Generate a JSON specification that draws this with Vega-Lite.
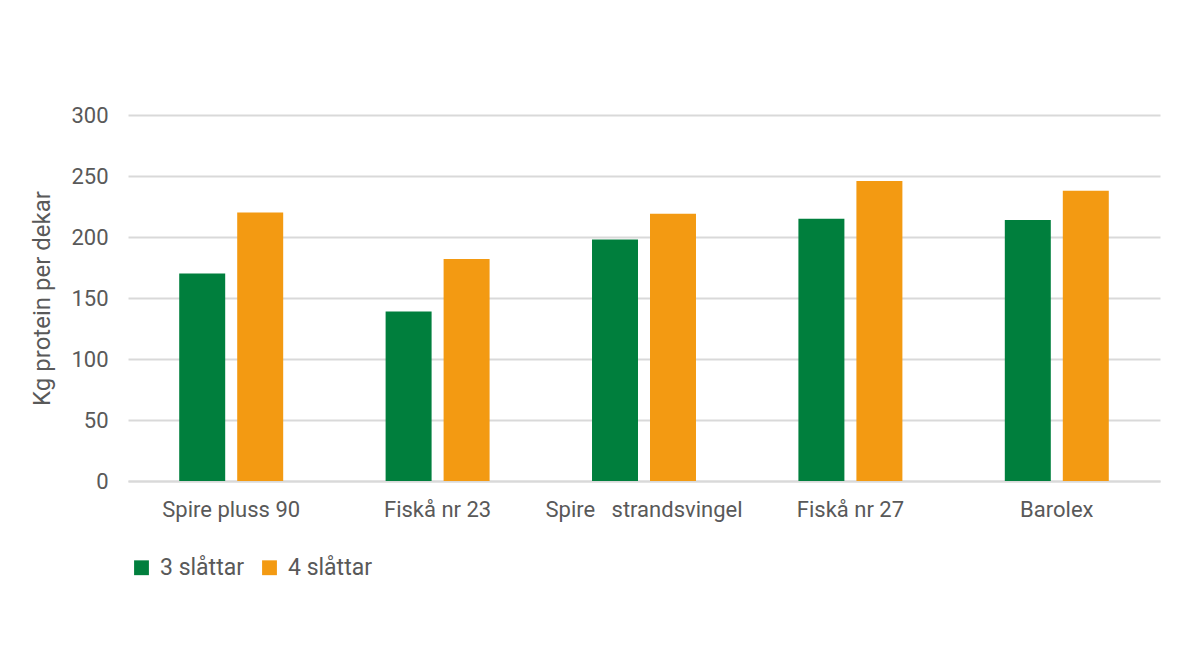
{
  "$schema": "https://vega.github.io/schema/vega-lite/v6.json",
  "width": 1032,
  "height": 366,
  "autosize": {"type": "none"},
  "padding": {"left": 128, "top": 115, "right": 40, "bottom": 169},
  "background": "white",
  "config": {
    "view": {"stroke": null},
    "font": "Roboto",
    "axis": {"labelColor": "#595959", "titleColor": "#595959", "labelFont": "Roboto", "titleFont": "Roboto"}
  },
  "data": {
    "values": [
      {"sorte": "Spire pluss 90", "behandling": "3 slåttar", "protein": 170},
      {"sorte": "Spire pluss 90", "behandling": "4 slåttar", "protein": 220},
      {"sorte": "Fiskå nr 23", "behandling": "3 slåttar", "protein": 139},
      {"sorte": "Fiskå nr 23", "behandling": "4 slåttar", "protein": 182},
      {"sorte": "Spire\u00a0\u00a0\u00a0strandsvingel", "behandling": "3 slåttar", "protein": 198},
      {"sorte": "Spire\u00a0\u00a0\u00a0strandsvingel", "behandling": "4 slåttar", "protein": 219},
      {"sorte": "Fiskå nr 27", "behandling": "3 slåttar", "protein": 215},
      {"sorte": "Fiskå nr 27", "behandling": "4 slåttar", "protein": 246},
      {"sorte": "Barolex", "behandling": "3 slåttar", "protein": 214},
      {"sorte": "Barolex", "behandling": "4 slåttar", "protein": 238}
    ]
  },
  "mark": {"type": "bar"},
  "encoding": {
    "x": {
      "field": "sorte", "type": "nominal",
      "sort": ["Spire pluss 90", "Fiskå nr 23", "Spire\u00a0\u00a0\u00a0strandsvingel", "Fiskå nr 27", "Barolex"],
      "scale": {"paddingInner": 0, "paddingOuter": 0},
      "axis": {
        "title": null, "labelAngle": 0, "labelFontSize": 22, "labelPadding": 18,
        "ticks": false, "domainColor": "#d9d9d9", "domainWidth": 2, "labelLimit": 300
      }
    },
    "xOffset": {
      "field": "behandling", "type": "nominal",
      "scale": {"paddingInner": 0.207, "paddingOuter": 0.883}
    },
    "y": {
      "field": "protein", "type": "quantitative",
      "scale": {"domain": [0, 300]},
      "axis": {
        "title": "Kg protein per dekar", "titleFontSize": 24, "titleFontWeight": "normal",
        "titlePadding": 16, "values": [0, 50, 100, 150, 200, 250, 300],
        "labelFontSize": 22, "labelPadding": 20, "ticks": false, "domain": false,
        "gridColor": "#d9d9d9", "gridWidth": 2
      }
    },
    "color": {
      "field": "behandling", "type": "nominal",
      "scale": {"domain": ["3 slåttar", "4 slåttar"], "range": ["#007f3d", "#f39a12"]},
      "legend": {
        "title": null, "orient": "none", "direction": "horizontal",
        "legendX": 2, "legendY": 441, "symbolType": "square", "symbolSize": 220,
        "symbolStrokeWidth": 0, "labelFontSize": 23, "labelColor": "#595959",
        "columnPadding": 14, "labelOffset": 7
      }
    }
  }
}
